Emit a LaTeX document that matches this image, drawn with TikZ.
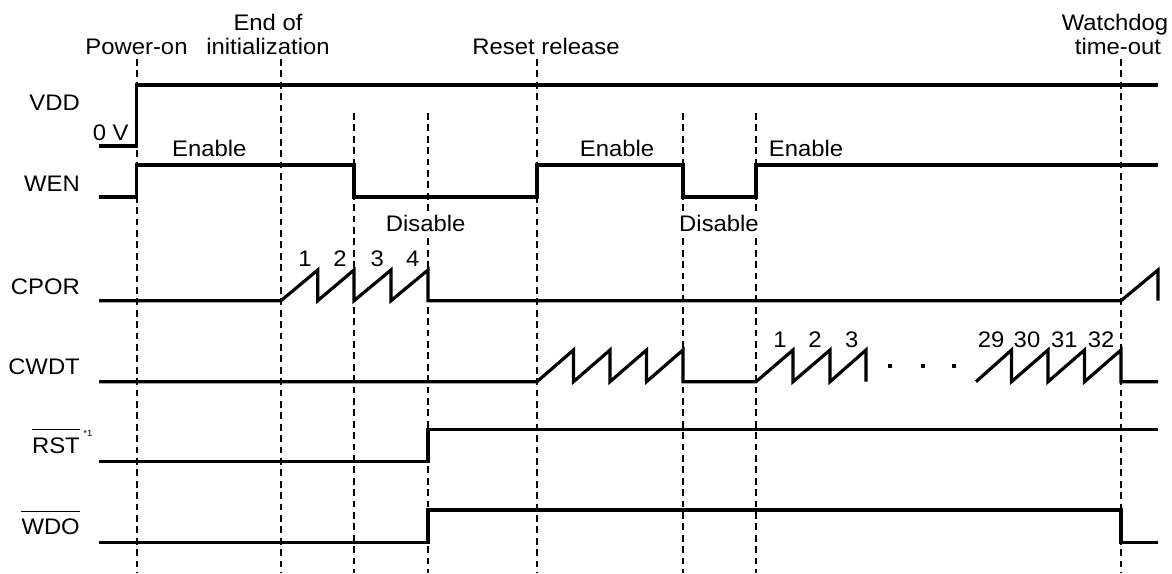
\documentclass[tikz,border=0pt]{standalone}
\usepackage{fontspec}
\setmainfont{Liberation Sans}[FakeStretch=1.06]
\begin{document}
\begin{tikzpicture}[x=1pt,y=-1pt,
  sig/.style={line width=3.2pt},
  guide/.style={line width=2pt, dash pattern=on 6.7pt off 4.7pt},
  lbl/.style={inner sep=0pt, font=\fontsize{22.5}{26}\selectfont},
  gap/.style={lbl, fill=white, inner ysep=3pt},
  dotsq/.style={fill=black, minimum size=4pt, inner sep=0pt},
  ovl/.style={line width=1.8pt}]
\useasboundingbox (0,0) rectangle (1172,573);

% guide lines
\foreach \x in {136.5,281,537,1121} \draw[guide] (\x,59) -- (\x,573);
\foreach \x in {354,428,683,756} \draw[guide] (\x,113) -- (\x,573);

% VDD
\draw[sig] (99,146) -- (136.5,146) -- (136.5,85) -- (1158,85);
% WEN
\draw[sig] (99,197) -- (136.5,197) -- (136.5,165) -- (354,165) -- (354,197)
  -- (537,197) -- (537,165) -- (683,165) -- (683,197) -- (756,197) -- (756,165) -- (1158,165);
% CPOR
\def\cb{300.7}\def\ct{270}
\draw[sig] (99,\cb) -- (281,\cb) -- (317.7,\ct) -- (317.7,\cb) -- (354,\ct) -- (354,\cb)
  -- (391,\ct) -- (391,\cb) -- (428,\ct) -- (428,\cb) -- (1121,\cb) -- (1158,\ct) -- (1158,\cb);
% CWDT
\def\wb{381.7}\def\wt{350}
\draw[sig] (99,\wb) -- (537,\wb) -- (573.5,\wt) -- (573.5,\wb) -- (610,\wt) -- (610,\wb)
  -- (646.5,\wt) -- (646.5,\wb) -- (683,\wt) -- (683,\wb) -- (756,\wb)
  -- (793,\wt) -- (793,\wb) -- (830,\wt) -- (830,\wb) -- (866,\wt) -- (866,\wb);
\draw[sig] (976,\wb) -- (1011.5,\wt) -- (1011.5,\wb) -- (1048,\wt) -- (1048,\wb)
  -- (1084.5,\wt) -- (1084.5,\wb) -- (1121,\wt) -- (1121,\wb) -- (1158,\wb);
% RST
\draw[sig] (99,461.7) -- (428,461.7) -- (428,429.3) -- (1158,429.3);
% WDO
\draw[sig] (99,542.7) -- (428,542.7) -- (428,510) -- (1121,510) -- (1121,542.7) -- (1158,542.7);

% dots
\node[dotsq] (d1) at (890,366) {};
\node[dotsq] (d2) at (922.5,366) {};
\node[dotsq] (d3) at (954,366) {};

% signal names
\node[lbl,anchor=base east] (vdd) at (80,110.4) {VDD};
\node[lbl,anchor=base east] (wen) at (80,191) {WEN};
\node[lbl,anchor=base east] (cpor) at (80,294) {CPOR};
\node[lbl,anchor=base east] (cwdt) at (80,374) {CWDT};
\node[lbl,anchor=base east] (rst) at (80,453.5) {RST};
\node[lbl,anchor=base east] (wdo) at (80,534.5) {WDO};
\draw[ovl] ([yshift=8pt]rst.north west) -- ([yshift=8pt]rst.north east);
\draw[ovl] ([yshift=7pt]wdo.north west) -- ([yshift=7pt]wdo.north east);
\node[inner sep=0pt, font=\fontsize{9}{10}\selectfont] (rstsup) at (88,433) {*1};

% event labels
\node[lbl,anchor=base] (pon) at (136.5,54.5) {Power-on};
\node[lbl,anchor=base] (eoi1) at (268,30.7) {End of};
\node[lbl,anchor=base] (eoi2) at (268,54.5) {initialization};
\node[lbl,anchor=base] (rr) at (546,54.5) {Reset release};
\node[lbl,anchor=base] (wd1) at (1115,30.7) {Watchdog};
\node[lbl,anchor=base] (wd2) at (1118,54.5) {time-out};

% state labels
\node[lbl,anchor=base] (zv) at (110.7,140) {0 V};
\node[lbl,anchor=base] (en1) at (209.3,156.7) {Enable};
\node[lbl,anchor=base] (en2) at (617,156.7) {Enable};
\node[lbl,anchor=base] (en3) at (806,156.7) {Enable};
\node[gap,anchor=base] (dis1) at (425.7,231) {Disable};
\node[gap,anchor=base] (dis2) at (719,231) {Disable};

% counts
\node[lbl,anchor=base] (p1) at (305,266) {1};
\node[lbl,anchor=base] (p2) at (340,266) {2};
\node[lbl,anchor=base] (p3) at (377.3,266) {3};
\node[lbl,anchor=base] (p4) at (412.7,266) {4};
\node[lbl,anchor=base] (w1) at (780,347.3) {1};
\node[lbl,anchor=base] (w2) at (815,347.3) {2};
\node[lbl,anchor=base] (w3) at (851.7,347.3) {3};
\node[lbl,anchor=base] (w29) at (991,347.3) {29};
\node[lbl,anchor=base] (w30) at (1027,347.3) {30};
\node[lbl,anchor=base] (w31) at (1064.3,347.3) {31};
\node[lbl,anchor=base] (w32) at (1101,347.3) {32};
\end{tikzpicture}
\end{document}
